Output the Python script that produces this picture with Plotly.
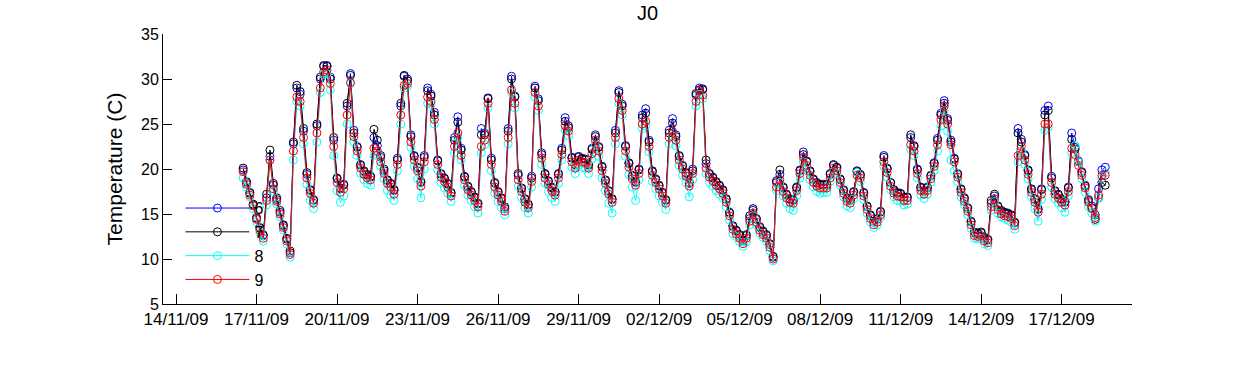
import pandas as pd
import plotly.graph_objects as go

# Sampling: every 3 hours from 16/11/09 12:00 to 18/12/09 15:00
start_time = "2009-11-16 12:00"
step = "3h"

# Series "6" (blue)
s6 = [
    19.9, 18.5, 17.3, 16.0,
    14.5, 13.4, 12.6, 16.8, 21.4, 18.2, 16.6, 15.2,
    13.7, 12.2, 10.7, 22.8, 29.0, 28.3, 24.2, 19.4,
    17.6, 16.5, 24.8, 30.0, 31.4, 31.5, 30.2, 23.2,
    18.9, 17.8, 18.2, 27.0, 30.6, 24.3, 22.5, 20.5,
    19.7, 19.3, 19.1, 23.5, 22.6, 21.3, 19.8, 18.7,
    18.3, 17.6, 21.2, 27.0, 30.3, 30.0, 23.8, 21.5,
    20.1, 18.5, 21.5, 29.0, 28.3, 26.3, 21.0, 19.5,
    18.9, 18.3, 17.3, 23.5, 25.8, 22.3, 19.2, 18.0,
    17.4, 16.8, 16.1, 24.5, 24.0, 27.8, 21.2, 18.4,
    17.4, 16.7, 15.6, 24.5, 30.3, 28.0, 19.3, 17.8,
    16.6, 16.0, 19.2, 29.2, 27.8, 21.8, 19.4, 18.6,
    17.9, 17.4, 19.4, 22.3, 25.7, 24.8, 21.3, 20.4,
    21.3, 21.1, 21.0, 20.4, 22.3, 23.8, 22.5, 20.2,
    18.7, 17.5, 16.6, 24.3, 28.7, 27.2, 22.6, 20.6,
    19.2, 18.5, 20.0, 26.0, 26.7, 23.2, 19.7, 18.8,
    18.1, 17.3, 16.5, 24.3, 25.6, 23.8, 21.4, 20.3,
    19.5, 18.4, 20.0, 28.2, 29.0, 28.8, 20.6, 19.4,
    19.0, 18.5, 18.1, 17.6, 16.6, 15.1, 13.6, 13.1,
    12.6, 12.0, 12.6, 14.5, 15.4, 14.4, 13.5, 13.0,
    12.6, 11.6, 10.2, 18.5, 19.4, 17.9, 17.1, 16.6,
    16.5, 17.9, 19.9, 21.9, 20.9, 19.7, 18.8, 18.4,
    18.2, 18.2, 18.2, 19.4, 20.4, 20.1, 18.8, 17.6,
    16.7, 16.5, 17.4, 19.7, 19.3, 17.3, 15.8, 14.8,
    14.1, 14.4, 15.2, 21.5, 20.1, 18.5, 17.6, 17.3,
    17.2, 16.8, 16.8, 23.5, 22.6, 20.0, 17.9, 17.5,
    17.9, 19.2, 20.7, 23.4, 26.2, 27.6, 25.6, 23.2,
    21.2, 19.5, 17.7, 16.7, 15.6, 14.1, 12.9, 12.8,
    12.9, 12.3, 12.1, 16.2, 17.0, 15.8, 15.3, 15.1,
    15.0, 14.8, 14.0, 24.5, 23.3, 21.6, 19.8, 17.7,
    16.6, 15.5, 17.8, 26.5, 27.0, 19.2, 17.5, 17.1,
    16.6, 16.3, 18.0, 24.0, 22.4, 20.9, 19.7, 18.2,
    16.6, 15.9, 14.9, 17.8, 19.9, 20.2,
]

# Series "7" (black)
s7 = [
    20.1, 18.6, 17.4, 16.1,
    14.6, 13.5, 12.7, 17.2, 22.1, 18.4, 16.8, 15.4,
    13.8, 12.3, 10.9, 23.0, 29.3, 28.6, 24.5, 19.6,
    17.7, 16.6, 25.0, 30.2, 31.5, 31.4, 30.0, 23.5,
    19.0, 17.9, 18.3, 27.3, 30.4, 24.0, 22.4, 20.4,
    19.8, 19.4, 19.2, 24.4, 23.2, 21.5, 20.0, 18.8,
    18.4, 17.7, 21.0, 27.3, 30.4, 29.8, 23.6, 21.4,
    20.2, 18.6, 21.3, 28.7, 28.1, 26.0, 20.9, 19.4,
    19.0, 18.4, 17.4, 23.2, 25.2, 22.1, 19.1, 18.1,
    17.5, 16.9, 16.2, 23.8, 23.8, 27.9, 21.0, 18.5,
    17.5, 16.8, 15.8, 24.2, 30.0, 28.1, 19.5, 17.9,
    16.7, 16.1, 19.0, 29.0, 27.6, 21.6, 19.5, 18.7,
    18.0, 17.5, 19.5, 22.1, 25.3, 24.6, 21.2, 20.5,
    21.4, 21.2, 21.1, 20.5, 22.2, 23.6, 22.4, 20.3,
    18.8, 17.6, 16.7, 24.0, 28.5, 27.0, 22.5, 20.7,
    19.3, 18.6, 19.9, 25.7, 26.2, 23.0, 19.8, 18.9,
    18.2, 17.4, 16.6, 24.0, 25.1, 23.6, 21.5, 20.4,
    19.6, 18.5, 19.8, 28.4, 28.8, 28.9, 21.0, 19.5,
    19.1, 18.6, 18.2, 17.7, 16.7, 15.2, 13.7, 13.2,
    12.7, 12.1, 12.7, 14.8, 15.6, 14.5, 13.6, 13.1,
    12.7, 11.7, 10.3, 18.7, 19.9, 18.0, 17.2, 16.7,
    16.6, 18.0, 19.8, 21.6, 20.8, 19.8, 18.9, 18.5,
    18.3, 18.3, 18.3, 19.5, 20.5, 20.2, 18.9, 17.7,
    16.8, 16.6, 17.5, 19.8, 19.4, 17.4, 15.9, 14.9,
    14.2, 14.5, 15.3, 21.3, 20.0, 18.5, 17.7, 17.4,
    17.3, 16.9, 16.9, 23.8, 22.5, 19.9, 18.0, 17.6,
    18.0, 19.3, 20.6, 23.2, 26.0, 27.3, 25.4, 23.0,
    21.1, 19.4, 17.8, 16.8, 15.7, 14.2, 13.0, 12.9,
    13.0, 12.4, 12.2, 16.5, 17.2, 15.9, 15.4, 15.2,
    15.1, 14.9, 14.1, 24.0, 23.0, 21.5, 19.9, 17.8,
    16.7, 15.6, 17.7, 26.0, 26.5, 19.0, 17.6, 17.2,
    16.7, 16.4, 17.9, 23.3, 22.2, 20.8, 19.6, 18.1,
    16.5, 15.7, 14.4, 16.8, 18.5, 18.2,
]

# Series "8" (cyan)
s8 = [
    19.0, 18.0, 16.9, 15.6,
    14.1, 12.9, 12.0, 16.0, 21.0, 17.5, 16.1, 14.7,
    13.2, 11.7, 10.2, 21.0, 27.5, 27.0, 22.8, 18.3,
    16.5, 15.6, 23.0, 28.5, 30.5, 30.6, 28.8, 21.5,
    17.6, 16.3, 17.0, 25.0, 29.5, 23.0, 21.5, 19.5,
    18.8, 18.4, 18.2, 21.5, 21.6, 20.3, 18.9, 17.6,
    17.1, 16.5, 19.8, 25.0, 29.0, 29.2, 22.4, 20.3,
    18.9, 16.8, 20.0, 27.3, 27.2, 25.0, 19.9, 18.5,
    17.9, 17.3, 16.4, 21.8, 23.5, 21.0, 18.2, 17.1,
    16.5, 15.8, 15.1, 21.8, 22.7, 26.8, 19.8, 17.3,
    16.4, 15.7, 14.9, 22.8, 28.5, 26.8, 18.1, 16.8,
    15.7, 15.1, 18.0, 28.0, 26.5, 20.5, 18.4, 17.5,
    16.8, 16.4, 18.4, 21.0, 24.3, 23.7, 20.2, 19.5,
    20.4, 20.2, 20.1, 19.5, 21.1, 22.7, 21.4, 19.0,
    17.6, 16.2, 15.1, 22.8, 27.3, 26.0, 21.4, 19.4,
    18.0, 16.5, 18.8, 24.5, 24.8, 21.9, 18.6, 17.8,
    17.0, 16.3, 15.5, 22.8, 23.7, 22.6, 20.4, 19.3,
    18.5, 16.9, 18.8, 27.0, 28.3, 27.8, 19.5, 18.5,
    18.1, 17.6, 17.2, 16.8, 15.8, 14.3, 12.8, 12.5,
    11.9, 11.4, 11.9, 13.8, 14.8, 13.8, 12.9, 12.4,
    11.9, 10.9, 9.8, 17.6, 18.5, 17.0, 16.2, 15.6,
    15.4, 17.0, 19.0, 20.8, 19.9, 18.8, 18.0, 17.5,
    17.3, 17.4, 17.4, 18.6, 19.7, 19.5, 18.2, 16.9,
    15.9, 15.7, 16.7, 19.6, 18.6, 16.6, 15.1, 14.1,
    13.5, 13.8, 14.6, 20.3, 19.1, 17.7, 16.9, 16.5,
    16.4, 16.0, 16.1, 22.2, 21.5, 19.0, 17.1, 16.7,
    17.2, 18.5, 19.8, 22.0, 24.8, 26.5, 24.2, 21.0,
    19.8, 18.6, 16.9, 16.0, 14.9, 13.4, 12.3, 12.2,
    12.3, 11.7, 11.5, 15.4, 16.4, 15.1, 14.7, 14.5,
    14.3, 14.1, 13.3, 20.8, 22.0, 20.5, 18.9, 16.9,
    15.6, 14.2, 16.6, 24.3, 24.6, 18.0, 16.7, 16.2,
    15.7, 15.2, 17.0, 21.8, 22.6, 20.8, 18.9, 17.4,
    15.8, 15.1, 14.2, 16.8, 19.0, 19.6,
]

# Series "9" (red)
s9 = [
    19.7, 18.3, 17.1, 15.9,
    14.4, 13.2, 12.3, 16.5, 21.0, 17.8, 16.4, 15.0,
    13.5, 12.0, 10.5, 22.0, 28.0, 27.5, 23.5, 19.0,
    17.3, 16.2, 24.0, 29.0, 30.8, 31.0, 29.5, 22.5,
    18.5, 17.4, 17.8, 26.0, 29.6, 23.6, 22.0, 20.1,
    19.4, 19.0, 18.8, 22.3, 22.0, 20.8, 19.5, 18.4,
    18.0, 17.2, 20.5, 26.0, 29.3, 29.5, 23.0, 21.0,
    19.8, 18.1, 20.8, 28.0, 27.5, 25.5, 20.5, 19.1,
    18.6, 18.0, 17.0, 22.5, 24.0, 21.5, 18.8, 17.7,
    17.1, 16.5, 15.8, 22.5, 23.2, 27.3, 20.5, 18.0,
    17.1, 16.4, 15.3, 23.5, 28.8, 27.3, 18.8, 17.5,
    16.3, 15.7, 18.6, 28.5, 27.0, 21.2, 19.0, 18.3,
    17.6, 17.1, 19.0, 21.6, 24.8, 24.2, 20.8, 20.1,
    21.0, 20.8, 20.7, 20.1, 21.7, 23.2, 22.0, 19.8,
    18.4, 17.2, 16.3, 23.5, 27.8, 26.5, 22.0, 20.2,
    18.9, 18.2, 19.5, 25.0, 25.3, 22.5, 19.3, 18.5,
    17.8, 17.0, 16.2, 23.5, 24.2, 23.2, 21.0, 20.0,
    19.2, 18.1, 19.5, 27.5, 28.7, 28.2, 20.1, 19.1,
    18.7, 18.2, 17.8, 17.3, 16.3, 14.8, 13.3, 12.8,
    12.3, 11.7, 12.3, 14.2, 15.1, 14.1, 13.2, 12.7,
    12.3, 11.3, 10.0, 18.0, 18.8, 17.5, 16.8, 16.3,
    16.2, 17.6, 19.5, 21.3, 20.4, 19.3, 18.5, 18.1,
    17.9, 17.9, 17.9, 19.0, 20.1, 19.8, 18.5, 17.3,
    16.4, 16.2, 17.1, 19.3, 19.0, 17.0, 15.5, 14.5,
    13.8, 14.1, 14.9, 20.8, 19.6, 18.1, 17.3, 17.0,
    16.9, 16.5, 16.5, 22.7, 22.0, 19.5, 17.6, 17.2,
    17.6, 18.9, 20.3, 22.7, 25.5, 27.0, 25.0, 22.7,
    20.8, 19.1, 17.4, 16.4, 15.3, 13.8, 12.6, 12.5,
    12.6, 12.0, 11.8, 15.8, 16.7, 15.5, 15.0, 14.8,
    14.7, 14.5, 13.7, 21.5, 22.5, 21.0, 19.4, 17.4,
    16.3, 15.2, 17.2, 25.0, 25.0, 18.5, 17.2, 16.8,
    16.3, 16.0, 17.5, 22.3, 21.6, 20.4, 19.3, 17.9,
    16.3, 15.6, 14.6, 17.1, 19.3, 19.3,
]

series_names = ["6", "7", "8", "9"]
series_values = [s6, s7, s8, s9]
series_colors = ["#0000ff", "#000000", "#00ffff", "#ff0000"]

tick_dates = ["2009-11-14", "2009-11-17", "2009-11-20", "2009-11-23", "2009-11-26",
              "2009-11-29", "2009-12-02", "2009-12-05", "2009-12-08", "2009-12-11",
              "2009-12-14", "2009-12-17"]
tick_labels = ["14/11/09", "17/11/09", "20/11/09", "23/11/09", "26/11/09", "29/11/09",
               "02/12/09", "05/12/09", "08/12/09", "11/12/09", "14/12/09", "17/12/09"]

times = pd.date_range(start_time, periods=len(s9), freq=step)

FONT = "Liberation Sans, Arial, Helvetica, sans-serif"

fig = go.Figure()
for name, vals, col in zip(series_names, series_values, series_colors):
    fig.add_trace(go.Scatter(
        x=times, y=vals, name=name, mode="lines+markers",
        line=dict(color=col, width=1),
        marker=dict(symbol="circle-open", size=8, color=col, line=dict(width=1, color=col)),
    ))

fig.update_layout(
    width=1250, height=365,
    margin=dict(l=163, r=118, t=34, b=61),
    paper_bgcolor="white", plot_bgcolor="white",
    font=dict(family=FONT, size=16, color="black"),
    title=dict(text="J0", x=0.5, xref="paper", xanchor="center",
               y=1 - 12.5 / 365, yref="container", yanchor="middle",
               font=dict(family=FONT, size=20, color="black")),
    showlegend=True,
    legend=dict(x=0.018, y=0.418, xanchor="left", yanchor="top",
                bgcolor="rgba(0,0,0,0)", borderwidth=0,
                font=dict(family=FONT, size=16, color="black"),
                itemwidth=64, tracegroupgap=0),
    xaxis=dict(
        range=["2009-11-13 12:20", "2009-12-19 14:55"],
        tickmode="array", tickvals=tick_dates, ticktext=tick_labels,
        ticks="inside", ticklen=10, tickwidth=1, tickcolor="black",
        showline=True, linecolor="black", linewidth=1, mirror=False,
        showgrid=False, zeroline=False,
        tickfont=dict(family=FONT, size=17, color="black"),
    ),
    yaxis=dict(
        range=[5, 35], dtick=5, tick0=5,
        ticks="inside", ticklen=9, tickwidth=1, tickcolor="black",
        showline=True, linecolor="black", linewidth=1, mirror=False,
        showgrid=False, zeroline=False,
        title=dict(text="Temperature (C)", font=dict(family=FONT, size=21, color="black"), standoff=12),
        tickfont=dict(family=FONT, size=16, color="black"),
    ),
)

# remove the default page margin so the figure sits at the window's corner
fig.write_html("out.html", config={"displayModeBar": False},
               post_script="document.body.style.margin='0';")
